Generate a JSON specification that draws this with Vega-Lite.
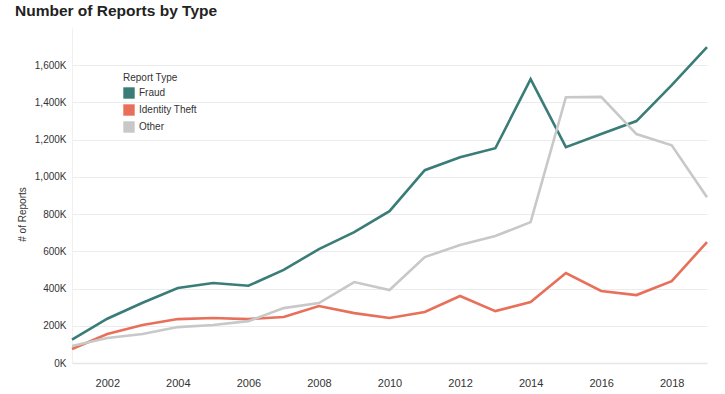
{
  "$schema": "https://vega.github.io/schema/vega-lite/v6.json",
  "width": 635,
  "height": 335,
  "autosize": {"type": "none"},
  "padding": {"left": 72, "top": 28, "right": 18, "bottom": 31},
  "background": "white",
  "title": {
    "text": "Number of Reports by Type",
    "anchor": "start",
    "frame": "group",
    "dx": -57,
    "offset": 9,
    "font": "Liberation Sans",
    "fontSize": 15.5,
    "fontWeight": "bold",
    "color": "#222222"
  },
  "config": {
    "view": {"stroke": null},
    "font": "Liberation Sans"
  },
  "data": {
    "values": [
      {"year": 2001, "type": "Fraud", "reports": 125000},
      {"year": 2002, "type": "Fraud", "reports": 238000},
      {"year": 2003, "type": "Fraud", "reports": 324000},
      {"year": 2004, "type": "Fraud", "reports": 403000},
      {"year": 2005, "type": "Fraud", "reports": 430000},
      {"year": 2006, "type": "Fraud", "reports": 415000},
      {"year": 2007, "type": "Fraud", "reports": 500000},
      {"year": 2008, "type": "Fraud", "reports": 612000},
      {"year": 2009, "type": "Fraud", "reports": 703000},
      {"year": 2010, "type": "Fraud", "reports": 816000},
      {"year": 2011, "type": "Fraud", "reports": 1036000},
      {"year": 2012, "type": "Fraud", "reports": 1106000},
      {"year": 2013, "type": "Fraud", "reports": 1154000},
      {"year": 2014, "type": "Fraud", "reports": 1525000},
      {"year": 2015, "type": "Fraud", "reports": 1160000},
      {"year": 2016, "type": "Fraud", "reports": 1230000},
      {"year": 2017, "type": "Fraud", "reports": 1300000},
      {"year": 2018, "type": "Fraud", "reports": 1493000},
      {"year": 2019, "type": "Fraud", "reports": 1697000},
      {"year": 2001, "type": "Identity Theft", "reports": 75000},
      {"year": 2002, "type": "Identity Theft", "reports": 156000},
      {"year": 2003, "type": "Identity Theft", "reports": 204000},
      {"year": 2004, "type": "Identity Theft", "reports": 236000},
      {"year": 2005, "type": "Identity Theft", "reports": 242000},
      {"year": 2006, "type": "Identity Theft", "reports": 236000},
      {"year": 2007, "type": "Identity Theft", "reports": 247000},
      {"year": 2008, "type": "Identity Theft", "reports": 306000},
      {"year": 2009, "type": "Identity Theft", "reports": 268000},
      {"year": 2010, "type": "Identity Theft", "reports": 242000},
      {"year": 2011, "type": "Identity Theft", "reports": 274000},
      {"year": 2012, "type": "Identity Theft", "reports": 360000},
      {"year": 2013, "type": "Identity Theft", "reports": 279000},
      {"year": 2014, "type": "Identity Theft", "reports": 328000},
      {"year": 2015, "type": "Identity Theft", "reports": 483000},
      {"year": 2016, "type": "Identity Theft", "reports": 387000},
      {"year": 2017, "type": "Identity Theft", "reports": 365000},
      {"year": 2018, "type": "Identity Theft", "reports": 440000},
      {"year": 2019, "type": "Identity Theft", "reports": 650000},
      {"year": 2001, "type": "Other", "reports": 91000},
      {"year": 2002, "type": "Other", "reports": 134000},
      {"year": 2003, "type": "Other", "reports": 156000},
      {"year": 2004, "type": "Other", "reports": 193000},
      {"year": 2005, "type": "Other", "reports": 204000},
      {"year": 2006, "type": "Other", "reports": 225000},
      {"year": 2007, "type": "Other", "reports": 295000},
      {"year": 2008, "type": "Other", "reports": 322000},
      {"year": 2009, "type": "Other", "reports": 435000},
      {"year": 2010, "type": "Other", "reports": 392000},
      {"year": 2011, "type": "Other", "reports": 569000},
      {"year": 2012, "type": "Other", "reports": 634000},
      {"year": 2013, "type": "Other", "reports": 682000},
      {"year": 2014, "type": "Other", "reports": 757000},
      {"year": 2015, "type": "Other", "reports": 1428000},
      {"year": 2016, "type": "Other", "reports": 1430000},
      {"year": 2017, "type": "Other", "reports": 1230000},
      {"year": 2018, "type": "Other", "reports": 1170000},
      {"year": 2019, "type": "Other", "reports": 891000}
    ]
  },
  "mark": {"type": "line", "strokeWidth": 2.6},
  "encoding": {
    "x": {
      "field": "year",
      "type": "quantitative",
      "scale": {"domain": [2001, 2019], "nice": false, "zero": false},
      "axis": {
        "title": null,
        "values": [2002, 2004, 2006, 2008, 2010, 2012, 2014, 2016, 2018],
        "format": "d",
        "grid": false,
        "ticks": false,
        "domain": true,
        "domainColor": "#e6e6e6",
        "domainWidth": 1.5,
        "labelPadding": 14,
        "labelFontSize": 11,
        "labelColor": "#333333"
      }
    },
    "y": {
      "field": "reports",
      "type": "quantitative",
      "scale": {"domain": [0, 1800000], "nice": false},
      "axis": {
        "title": "# of Reports",
        "titleFontSize": 10,
        "titleFontWeight": "normal",
        "titleColor": "#333333",
        "titleX": -50,
        "titleY": 186,
        "titleAngle": -90,
        "titleAlign": "center",
        "titleBaseline": "middle",
        "values": [0, 200000, 400000, 600000, 800000, 1000000, 1200000, 1400000, 1600000],
        "labelExpr": "format(datum.value / 1000, ',') + 'K'",
        "labelFontSize": 10,
        "labelColor": "#333333",
        "labelPadding": 6,
        "ticks": false,
        "domain": true,
        "domainColor": "#f0f0f0",
        "grid": true,
        "gridColor": "#ececec",
        "gridWidth": 1
      }
    },
    "color": {
      "field": "type",
      "type": "nominal",
      "scale": {
        "domain": ["Fraud", "Identity Theft", "Other"],
        "range": ["#3a7c78", "#e8705a", "#c8c8c8"]
      },
      "legend": {
        "title": "Report Type",
        "orient": "none",
        "legendX": 51,
        "legendY": 45,
        "symbolType": "square",
        "symbolSize": 130,
        "symbolStrokeWidth": 0,
        "symbolOpacity": 1,
        "titleFontSize": 10,
        "titleFontWeight": "normal",
        "titleColor": "#333333",
        "titlePadding": 4,
        "labelFontSize": 10,
        "labelColor": "#333333",
        "rowPadding": 5,
        "encode": {
          "symbols": {
            "update": {
              "fill": {"scale": "color", "field": "value"},
              "fillOpacity": {"value": 1}
            }
          }
        }
      }
    }
  }
}
